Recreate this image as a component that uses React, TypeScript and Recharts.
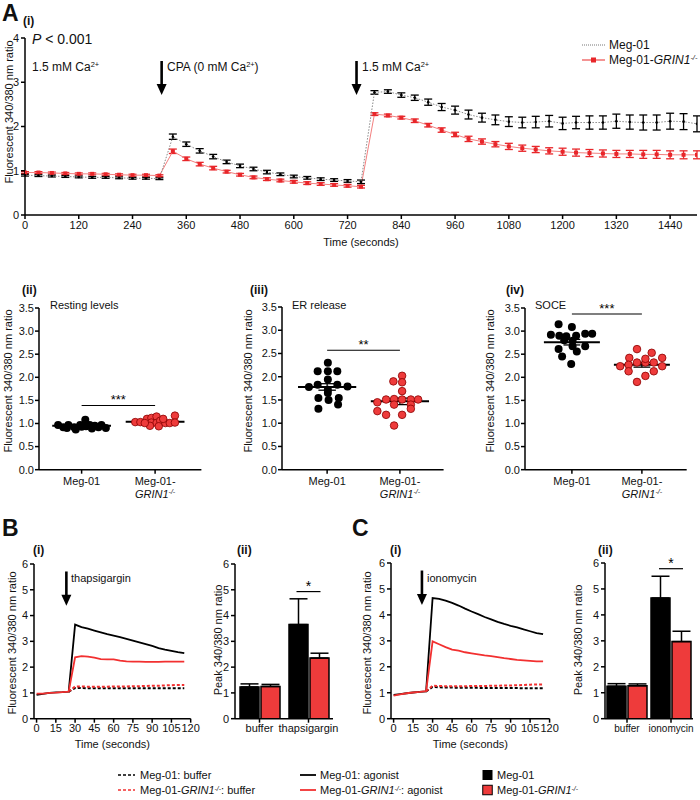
import React from 'react'
import {
  LineChart, Line, XAxis, YAxis, ErrorBar, ScatterChart, Scatter,
  ReferenceLine, BarChart, Bar,
} from 'recharts'

const FONT = '"Liberation Sans", Arial, Helvetica, sans-serif'
const RED = '#ee3b3b'
const RED_LINE = '#f23030'

// ---- A(i) time course (every 30 s) ----
const timeA = [
  0, 30, 60, 90, 120, 150, 180, 210, 240, 270, 300,
  330, 360, 390, 420, 450, 480, 510, 540, 570, 600, 630, 660, 690, 720, 750,
  780, 810, 840, 870, 900, 930, 960, 990, 1020, 1050, 1080, 1110, 1140, 1170, 1200,
  1230, 1260, 1290, 1320, 1350, 1380, 1410, 1440, 1470, 1500,
]
const megA = [
  0.90, 0.89, 0.88, 0.87, 0.86, 0.85, 0.85, 0.84, 0.83, 0.83, 0.82,
  1.77, 1.60, 1.45, 1.32, 1.20, 1.11, 1.04, 0.97, 0.92, 0.87, 0.84, 0.81, 0.79, 0.77, 0.75,
  2.77, 2.79, 2.71, 2.65, 2.55, 2.44, 2.37, 2.27, 2.20, 2.15, 2.11, 2.09, 2.10, 2.12, 2.07,
  2.09, 2.09, 2.09, 2.12, 2.10, 2.09, 2.09, 2.12, 2.11, 2.06,
]
const megAErr = [
  0.02, 0.02, 0.02, 0.02, 0.02, 0.02, 0.02, 0.02, 0.02, 0.02, 0.02,
  0.06, 0.05, 0.05, 0.05, 0.04, 0.04, 0.04, 0.04, 0.03, 0.03, 0.03, 0.03, 0.03, 0.03, 0.04,
  0.04, 0.04, 0.05, 0.06, 0.07, 0.08, 0.09, 0.10, 0.10, 0.11, 0.11, 0.12, 0.13, 0.13, 0.14,
  0.14, 0.15, 0.15, 0.16, 0.16, 0.17, 0.17, 0.18, 0.18, 0.18,
]
const grinA = [
  0.96, 0.96, 0.95, 0.94, 0.93, 0.93, 0.92, 0.91, 0.90, 0.90, 0.89,
  1.44, 1.27, 1.15, 1.06, 0.98, 0.91, 0.85, 0.81, 0.78, 0.75, 0.72, 0.70, 0.68, 0.66, 0.64,
  2.28, 2.25, 2.20, 2.13, 2.03, 1.92, 1.82, 1.72, 1.66, 1.60, 1.55, 1.51, 1.48, 1.45, 1.43,
  1.41, 1.40, 1.39, 1.38, 1.38, 1.37, 1.37, 1.36, 1.36, 1.36,
]
const grinAErr = [
  0.02, 0.02, 0.02, 0.02, 0.02, 0.02, 0.02, 0.02, 0.02, 0.02, 0.02,
  0.05, 0.04, 0.04, 0.04, 0.03, 0.03, 0.03, 0.03, 0.03, 0.03, 0.03, 0.03, 0.03, 0.03, 0.03,
  0.03, 0.03, 0.03, 0.04, 0.04, 0.05, 0.05, 0.06, 0.06, 0.06, 0.07, 0.07, 0.07, 0.07, 0.08,
  0.08, 0.08, 0.08, 0.08, 0.08, 0.09, 0.09, 0.09, 0.09, 0.09,
]
const ticksA = [0, 120, 240, 360, 480, 600, 720, 840, 960, 1080, 1200, 1320, 1440]

// ---- A(ii)-(iv) single-cell dots (x jitter in category units) ----
const groupNames = ['Meg-01', 'Meg-01-GRIN1']
const restMeg = [0.97, 0.92, 0.97, 0.92, 0.87, 0.97, 1.08, 0.94, 0.97, 0.95, 0.92, 0.97, 0.90, 0.90, 0.93, 0.89]
const restMegJ = [-0.32, -0.25, -0.18, -0.10, -0.08, -0.02, 0.05, 0.06, 0.11, 0.18, 0.23, 0.27, 0.33, -0.20, 0.0, 0.14]
const restGrin = [1.03, 1.03, 1.10, 1.12, 1.15, 1.02, 1.01, 1.06, 0.95, 0.94, 1.01, 1.01, 1.17, 1.02, 1.01, 1.10]
const restGrinJ = [-0.27, -0.20, -0.11, -0.05, 0.02, -0.05, 0.02, 0.07, -0.07, 0.05, 0.14, 0.20, 0.27, 0.27, -0.14, 0.11]
const erMeg = [2.30, 2.12, 2.12, 2.12, 1.94, 1.83, 1.83, 1.78, 1.79, 1.72, 1.54, 1.50, 1.54, 1.31, 1.40, 1.65]
const erMegJ = [0.01, -0.13, 0.01, 0.14, 0.01, -0.13, 0.14, -0.25, 0.28, 0.01, -0.12, 0.02, 0.16, -0.12, 0.15, 0.01]
const erGrin = [2.02, 1.90, 1.88, 1.69, 1.45, 1.51, 1.52, 1.51, 1.51, 1.51, 1.40, 1.40, 1.26, 1.18, 1.18, 1.31, 0.95]
const erGrinJ = [0.03, -0.09, 0.03, 0.03, -0.31, -0.19, -0.08, 0.03, 0.15, 0.25, -0.08, 0.15, -0.31, -0.19, 0.03, 0.15, -0.08]
const soceMeg = [3.15, 3.09, 2.92, 2.90, 2.89, 2.90, 2.94, 2.94, 2.80, 2.79, 2.61, 2.56, 2.67, 2.67, 2.45, 2.29]
const soceMegJ = [-0.19, 0.0, -0.30, -0.18, -0.08, 0.06, 0.19, 0.29, -0.11, 0.01, -0.19, 0.07, 0.19, 0.01, -0.14, -0.01]
const soceGrin = [2.61, 2.53, 2.42, 2.42, 2.24, 2.27, 2.32, 2.32, 2.32, 2.24, 2.13, 2.13, 2.03, 1.90, 2.40]
const soceGrinJ = [-0.07, 0.14, 0.29, -0.18, -0.31, -0.19, -0.07, 0.05, 0.17, 0.29, -0.19, 0.17, 0.05, -0.07, 0.05]
const restMean = [0.95, 1.04]
const restSem = [0.02, 0.02]
const erMean = [1.78, 1.47]
const erSem = [0.07, 0.07]
const soceMean = [2.76, 2.27]
const soceSem = [0.06, 0.05]
const ticksDot = [0, 0.5, 1, 1.5, 2, 2.5, 3, 3.5]

// ---- B(i)/C(i) traces ----
const traceTime = [0, 5, 10, 15, 20, 25, 30, 35, 40, 45, 50, 55, 60, 65, 70, 75, 80, 85, 90, 95, 100, 105, 110, 115]
const bufTime = [25, 30, 35, 40, 45, 50, 55, 60, 65, 70, 75, 80, 85, 90, 95, 100, 105, 110, 115]
const bMegAgo = [0.92, 0.96, 1.0, 1.02, 1.03, 1.05, 3.65, 3.55, 3.49, 3.42, 3.35, 3.28, 3.22, 3.16, 3.10, 3.03, 2.96, 2.89, 2.82, 2.74, 2.68, 2.63, 2.58, 2.54]
const bGrinAgo = [0.97, 0.97, 1.0, 1.01, 1.03, 1.05, 2.38, 2.43, 2.41, 2.37, 2.31, 2.30, 2.30, 2.25, 2.22, 2.21, 2.21, 2.20, 2.20, 2.20, 2.21, 2.21, 2.21, 2.21]
const bMegBuf = [1.05, 1.19, 1.19, 1.18, 1.18, 1.18, 1.18, 1.18, 1.18, 1.18, 1.18, 1.18, 1.18, 1.18, 1.18, 1.18, 1.18, 1.18, 1.18]
const bGrinBuf = [1.05, 1.25, 1.25, 1.24, 1.24, 1.24, 1.24, 1.25, 1.25, 1.25, 1.26, 1.26, 1.27, 1.28, 1.28, 1.29, 1.30, 1.31, 1.31]
const cMegAgo = [0.92, 0.95, 0.98, 1.01, 1.03, 1.05, 4.65, 4.62, 4.55, 4.46, 4.36, 4.24, 4.13, 4.03, 3.92, 3.83, 3.73, 3.65, 3.58, 3.52, 3.44, 3.37, 3.30, 3.26]
const cGrinAgo = [0.89, 0.94, 0.98, 1.01, 1.03, 1.06, 2.98, 2.87, 2.76, 2.66, 2.62, 2.56, 2.52, 2.48, 2.44, 2.41, 2.37, 2.33, 2.30, 2.27, 2.25, 2.23, 2.21, 2.21]
const cMegBuf = [1.05, 1.22, 1.21, 1.20, 1.20, 1.19, 1.19, 1.19, 1.19, 1.18, 1.18, 1.18, 1.18, 1.18, 1.18, 1.17, 1.17, 1.17, 1.17]
const cGrinBuf = [1.06, 1.27, 1.26, 1.25, 1.25, 1.25, 1.25, 1.26, 1.26, 1.26, 1.27, 1.27, 1.28, 1.28, 1.29, 1.30, 1.31, 1.32, 1.32]
const ticksTrace = [0, 15, 30, 45, 60, 75, 90, 105, 120]
const ticksPeak = [0, 1, 2, 3, 4, 5, 6]

// ---- B(ii)/C(ii) peaks ----
const bGroups = ['buffer', 'thapsigargin']
const bPeakMeg = [1.23, 3.65]
const bPeakMegErr = [0.12, 1.0]
const bPeakGrin = [1.25, 2.35]
const bPeakGrinErr = [0.08, 0.19]
const cGroups = ['buffer', 'ionomycin']
const cPeakMeg = [1.25, 4.65]
const cPeakMegErr = [0.1, 0.84]
const cPeakGrin = [1.27, 2.97]
const cPeakGrinErr = [0.07, 0.4]

const axisLine = { stroke: '#000', strokeWidth: 1.5 }
const tickLine = { stroke: '#000', strokeWidth: 1.5 }
const tickText = { fontSize: 11, fill: '#111' }

// chart box placed so that its plot area lands on (x0, y0)-(x1, y1)
function frame(x0: number, y0: number, x1: number, y1: number, yw: number, xh: number) {
  const mt = 8
  const mr = 14
  const mb = 4
  return {
    left: x0 - yw,
    top: y0 - mt,
    width: yw + (x1 - x0) + mr,
    height: mt + (y1 - y0) + xh + mb,
    margin: { top: mt, right: mr, left: 0, bottom: mb },
  }
}

const Sup = ({ children }: any) => (
  <span style={{ fontSize: '0.62em', position: 'relative', top: '-0.5em' }}>{children}</span>
)
const Grin = () => <i>GRIN1<Sup>-/-</Sup></i>

function T({ x, y, size = 11, bold = false, children }: any) {
  return (
    <div style={{
      position: 'absolute', left: x, top: y, fontSize: size, fontWeight: bold ? 700 : 400,
      lineHeight: 1, whiteSpace: 'nowrap', transform: 'translateY(-50%)',
    }}>{children}</div>
  )
}

function VT({ x, y, size = 11, children }: any) {
  return (
    <div style={{
      position: 'absolute', left: x, top: y, fontSize: size, lineHeight: 1, whiteSpace: 'nowrap',
      transform: 'translate(-50%, -50%) rotate(-90deg)',
    }}>{children}</div>
  )
}

const ArrowShape = (p: any) => (
  <g>
    <line x1={p.x1} y1={p.y1} x2={p.x2} y2={p.y2 - 9} stroke="#000" strokeWidth={2.6} />
    <polygon points={`${p.x2 - 5},${p.y2 - 11} ${p.x2 + 5},${p.y2 - 11} ${p.x2},${p.y2}`} fill="#000" />
  </g>
)

const RedSquare = (p: any) => (
  <rect key={`sq-${p.index}`} x={p.cx - 2} y={p.cy - 2} width={4} height={4} fill="#e8262a" />
)

function GroupTick({ x, y, payload }: any) {
  const i = Math.round(payload.value) - 1
  if (i === 0) {
    return <text x={x} y={y + 9} textAnchor="middle" fontSize={11} fill="#111">{groupNames[0]}</text>
  }
  return (
    <text x={x} y={y + 9} textAnchor="middle" fontSize={11} fill="#111">
      <tspan x={x}>{groupNames[0]}-</tspan>
      <tspan x={x} dy={13} fontStyle="italic">GRIN1<tspan fontSize={7} dy={-4}>-/-</tspan></tspan>
    </text>
  )
}

const BlackDot = (p: any) => <circle cx={p.cx} cy={p.cy} r={4} fill="#000" />
const RedDot = (p: any) => <circle cx={p.cx} cy={p.cy} r={3.8} fill={RED} stroke="#8a0000" strokeWidth={0.8} />

function DotPanel({ box, meg, megJ, grin, grinJ, mean, sem, sigY, stars, domain }: any) {
  const f = frame(box[0], box[1], box[2], box[3], 30, 34)
  const dMeg = meg.map((y: number, i: number) => ({ x: 1 + megJ[i], y }))
  const dGrin = grin.map((y: number, i: number) => ({ x: 2 + grinJ[i], y }))
  const SigShape = (p: any) => (
    <g>
      <line x1={p.x1} y1={p.y1} x2={p.x2} y2={p.y2} stroke="#000" strokeWidth={1.2} />
      <text x={(p.x1 + p.x2) / 2} y={p.y1 - 1} textAnchor="middle" fontSize={13} fill="#000">{stars}</text>
    </g>
  )
  return (
    <div style={{ position: 'absolute', left: f.left, top: f.top }}>
      <ScatterChart width={f.width} height={f.height} margin={f.margin}>
        <XAxis type="number" dataKey="x" domain={domain} ticks={[1, 2]} allowDataOverflow
          tick={<GroupTick />} tickSize={4} axisLine={axisLine} tickLine={tickLine} height={34} interval={0} />
        <YAxis type="number" dataKey="y" domain={[0, 3.5]} ticks={ticksDot} allowDataOverflow
          tickFormatter={(v: number) => v.toFixed(1)} tick={tickText} tickSize={4} tickMargin={1}
          axisLine={axisLine} tickLine={tickLine} width={30} interval={0} />
        <Scatter data={dMeg} shape={BlackDot} isAnimationActive={false} />
        <Scatter data={dGrin} shape={RedDot} isAnimationActive={false} />
        {mean.map((m: number, g: number) => (
          <ReferenceLine key={`m${g}`} ifOverflow="visible" stroke="#000" strokeWidth={2}
            segment={[{ x: g + 1 - 0.4, y: m }, { x: g + 1 + 0.4, y: m }]} />
        ))}
        {mean.map((m: number, g: number) => (
          <ReferenceLine key={`s${g}`} ifOverflow="visible" stroke="#000" strokeWidth={1.3}
            segment={[{ x: g + 1, y: m - sem[g] }, { x: g + 1, y: m + sem[g] }]} />
        ))}
        {mean.map((m: number, g: number) => (
          <ReferenceLine key={`u${g}`} ifOverflow="visible" stroke="#000" strokeWidth={1.3}
            segment={[{ x: g + 1 - 0.12, y: m + sem[g] }, { x: g + 1 + 0.12, y: m + sem[g] }]} />
        ))}
        {mean.map((m: number, g: number) => (
          <ReferenceLine key={`l${g}`} ifOverflow="visible" stroke="#000" strokeWidth={1.3}
            segment={[{ x: g + 1 - 0.12, y: m - sem[g] }, { x: g + 1 + 0.12, y: m - sem[g] }]} />
        ))}
        <ReferenceLine ifOverflow="visible" shape={SigShape}
          segment={[{ x: 1, y: sigY }, { x: 2, y: sigY }]} />
      </ScatterChart>
    </div>
  )
}

function pts(times: number[], vals: number[]) {
  return times.map((t, i) => ({ t, v: vals[i] }))
}

function TracePanel({ box, megAgo, grinAgo, megBuf, grinBuf, arrowT }: any) {
  const f = frame(box[0], box[1], box[2], box[3], 20, 30)
  return (
    <div style={{ position: 'absolute', left: f.left, top: f.top }}>
      <LineChart width={f.width} height={f.height} margin={f.margin}>
        <XAxis type="number" dataKey="t" domain={[-2, 120]} ticks={ticksTrace} allowDataOverflow
          tick={tickText} tickSize={4} axisLine={axisLine} tickLine={tickLine} height={30} interval={0}
          label={{ value: 'Time (seconds)', position: 'insideBottom', offset: 1, fontSize: 11, fill: '#111' }} />
        <YAxis type="number" domain={[0, 6]} ticks={ticksPeak} allowDataOverflow tick={tickText}
          tickSize={4} axisLine={axisLine} tickLine={tickLine} width={20} interval={0} />
        <Line data={pts(bufTime, megBuf)} dataKey="v" stroke="#000" strokeWidth={2} strokeDasharray="3 2"
          dot={false} isAnimationActive={false} />
        <Line data={pts(bufTime, grinBuf)} dataKey="v" stroke={RED_LINE} strokeWidth={2} strokeDasharray="3 2"
          dot={false} isAnimationActive={false} />
        <Line data={pts(traceTime, megAgo)} dataKey="v" stroke="#000" strokeWidth={1.8}
          dot={false} isAnimationActive={false} />
        <Line data={pts(traceTime, grinAgo)} dataKey="v" stroke={RED_LINE} strokeWidth={1.8}
          dot={false} isAnimationActive={false} />
        <ReferenceLine ifOverflow="visible" shape={ArrowShape}
          segment={[{ x: arrowT, y: 5.71 }, { x: arrowT, y: 4.38 }]} />
      </LineChart>
    </div>
  )
}

function PeakPanel({ box, groups, meg, megErr, grin, grinErr, sigY, tickSize = 11 }: any) {
  const f = frame(box[0], box[1], box[2], box[3], 20, 30)
  const data = groups.map((g: string, i: number) => ({
    name: g, meg: meg[i], megErr: [0, megErr[i]], grin: grin[i], grinErr: [0, grinErr[i]],
  }))
  const SigShape = (p: any) => (
    <g>
      <line x1={p.x1 - 12} y1={p.y1} x2={p.x1 + 12} y2={p.y1} stroke="#000" strokeWidth={1.2} />
      <text x={p.x1} y={p.y1 - 1} textAnchor="middle" fontSize={14} fill="#000">*</text>
    </g>
  )
  return (
    <div style={{ position: 'absolute', left: f.left, top: f.top }}>
      <BarChart width={f.width} height={f.height} margin={f.margin} data={data}
        barSize={19} barGap={2} barCategoryGap={4}>
        <XAxis dataKey="name" tick={{ fontSize: tickSize, fill: '#111' }} tickSize={4}
          axisLine={axisLine} tickLine={tickLine} height={30} interval={0} />
        <YAxis type="number" domain={[0, 6]} ticks={ticksPeak} allowDataOverflow tick={tickText}
          tickSize={4} axisLine={axisLine} tickLine={tickLine} width={20} interval={0} />
        <Bar dataKey="meg" fill="#000" stroke="#000" strokeWidth={1.5} isAnimationActive={false}>
          <ErrorBar dataKey="megErr" width={9} stroke="#000" strokeWidth={1.5} direction="y" />
        </Bar>
        <Bar dataKey="grin" fill={RED} stroke="#000" strokeWidth={1.5} isAnimationActive={false}>
          <ErrorBar dataKey="grinErr" width={9} stroke="#000" strokeWidth={1.5} direction="y" />
        </Bar>
        <ReferenceLine ifOverflow="visible" shape={SigShape}
          segment={[{ x: groups[1], y: sigY }, { x: groups[1], y: sigY }]} />
      </BarChart>
    </div>
  )
}

function Glyph({ x, y, kind }: any) {
  return (
    <svg style={{ position: 'absolute', left: x, top: y - 6 }} width={24} height={12}>
      {kind === 'dashK' && <line x1={0} y1={6} x2={17} y2={6} stroke="#000" strokeWidth={1.5} strokeDasharray="3 2" />}
      {kind === 'dashR' && <line x1={0} y1={6} x2={17} y2={6} stroke={RED_LINE} strokeWidth={1.5} strokeDasharray="3 2" />}
      {kind === 'lineK' && <line x1={0} y1={6} x2={16} y2={6} stroke="#000" strokeWidth={1.8} />}
      {kind === 'lineR' && <line x1={0} y1={6} x2={16} y2={6} stroke={RED_LINE} strokeWidth={1.8} />}
      {kind === 'boxK' && <rect x={0.5} y={1} width={10} height={10} fill="#000" />}
      {kind === 'boxR' && <rect x={0.75} y={1.25} width={9.5} height={9.5} fill={RED} stroke="#000" strokeWidth={1} />}
      {kind === 'dotted' && <line x1={0} y1={6} x2={23} y2={6} stroke="#777" strokeWidth={1} strokeDasharray="1 1" />}
      {kind === 'square' && (
        <g>
          <line x1={0} y1={6} x2={23} y2={6} stroke="#f07070" strokeWidth={1.5} />
          <rect x={9} y={3.5} width={5} height={5} fill="#e8262a" />
        </g>
      )}
    </svg>
  )
}

export default function App() {
  const dataA = timeA.map((t, i) => ({
    t, meg: megA[i], megErr: megAErr[i], grin: grinA[i], grinErr: grinAErr[i],
  }))
  const fA = frame(25, 38, 697, 215, 25, 32)

  return (
    <div style={{
      position: 'absolute', left: 0, top: 0, width: 700, height: 800, background: '#fff',
      overflow: 'hidden', fontFamily: FONT, color: '#111',
    }}>
      {/* ---------- A(i) ---------- */}
      <T x={2} y={13} size={23} bold>A</T>
      <T x={23} y={21} size={12} bold>(i)</T>
      <VT x={9} y={112}>Fluorescent 340/380 nm ratio</VT>
      <div style={{ position: 'absolute', left: fA.left, top: fA.top }}>
        <LineChart width={fA.width} height={fA.height} margin={fA.margin} data={dataA}>
          <XAxis type="number" dataKey="t" domain={[0, 1500]} ticks={ticksA} allowDataOverflow
            tick={tickText} tickSize={4} axisLine={axisLine} tickLine={tickLine} height={32} interval={0}
            label={{ value: 'Time (seconds)', position: 'insideBottom', offset: 1, fontSize: 11, fill: '#111' }} />
          <YAxis type="number" domain={[0, 4]} ticks={[0, 1, 2, 3, 4]} allowDataOverflow tick={tickText}
            tickSize={4} axisLine={axisLine} tickLine={tickLine} width={25} interval={0} />
          <Line dataKey="grin" stroke="#f38080" strokeWidth={1} dot={RedSquare} isAnimationActive={false}>
            <ErrorBar dataKey="grinErr" width={4} stroke="#e8262a" strokeWidth={1.3} direction="y" />
          </Line>
          <Line dataKey="meg" stroke="#8a8a8a" strokeWidth={1} strokeDasharray="1.5 1.5"
            dot={{ r: 1.3, fill: '#000', stroke: 'none' }} isAnimationActive={false}>
            <ErrorBar dataKey="megErr" width={4} stroke="#000" strokeWidth={1.3} direction="y" />
          </Line>
          <ReferenceLine ifOverflow="visible" shape={ArrowShape}
            segment={[{ x: 305, y: 3.48 }, { x: 305, y: 2.71 }]} />
          <ReferenceLine ifOverflow="visible" shape={ArrowShape}
            segment={[{ x: 740, y: 3.48 }, { x: 740, y: 2.71 }]} />
        </LineChart>
      </div>
      <T x={32} y={39} size={14}><i>P</i> &lt; 0.001</T>
      <T x={32} y={67} size={12}>1.5 mM Ca<Sup>2+</Sup></T>
      <T x={167} y={67} size={12}>CPA (0 mM Ca<Sup>2+</Sup>)</T>
      <T x={362} y={67} size={12}>1.5 mM Ca<Sup>2+</Sup></T>
      <Glyph x={582} y={45} kind="dotted" />
      <T x={609} y={45} size={12}>Meg-01</T>
      <Glyph x={582} y={60} kind="square" />
      <T x={609} y={60} size={12}>Meg-01-<Grin /></T>

      {/* ---------- A(ii)-(iv) ---------- */}
      <T x={22} y={290} size={12} bold>(ii)</T>
      <T x={50} y={305}>Resting levels</T>
      <VT x={8} y={381}>Fluorescent 340/380 nm ratio</VT>
      <DotPanel box={[39.3, 308.3, 201.7, 470]} domain={[0.42, 2.63]} meg={restMeg} megJ={restMegJ}
        grin={restGrin} grinJ={restGrinJ} mean={restMean} sem={restSem} sigY={1.39} stars="***" />

      <T x={250} y={290} size={12} bold>(iii)</T>
      <T x={292} y={305}>ER release</T>
      <VT x={248} y={381}>Fluorescent 340/380 nm ratio</VT>
      <DotPanel box={[281.7, 307.3, 443.3, 470]} domain={[0.38, 2.6]} meg={erMeg} megJ={erMegJ}
        grin={erGrin} grinJ={erGrinJ} mean={erMean} sem={erSem} sigY={2.57} stars="**" />

      <T x={506} y={290} size={12} bold>(iv)</T>
      <T x={535} y={305}>SOCE</T>
      <VT x={490} y={381}>Fluorescent 340/380 nm ratio</VT>
      <DotPanel box={[525, 308.3, 686.7, 470]} domain={[0.33, 2.64]} meg={soceMeg} megJ={soceMegJ}
        grin={soceGrin} grinJ={soceGrinJ} mean={soceMean} sem={soceSem} sigY={3.37} stars="***" />

      {/* ---------- B ---------- */}
      <T x={2} y={528} size={23} bold>B</T>
      <T x={33} y={550} size={12} bold>(i)</T>
      <T x={237} y={550} size={12} bold>(ii)</T>
      <T x={71} y={578}>thapsigargin</T>
      <VT x={12} y={643}>Fluorescent 340/380 nm ratio</VT>
      <VT x={218} y={640}>Peak 340/380 nm ratio</VT>
      <TracePanel box={[34.3, 564.3, 191, 719]} megAgo={bMegAgo} grinAgo={bGrinAgo}
        megBuf={bMegBuf} grinBuf={bGrinBuf} arrowT={23.2} />
      <PeakPanel box={[235, 564.3, 333, 719]} groups={bGroups} meg={bPeakMeg} megErr={bPeakMegErr}
        grin={bPeakGrin} grinErr={bPeakGrinErr} sigY={4.93} />

      {/* ---------- C ---------- */}
      <T x={352} y={528} size={23} bold>C</T>
      <T x={390} y={550} size={12} bold>(i)</T>
      <T x={598} y={550} size={12} bold>(ii)</T>
      <T x={427} y={578}>ionomycin</T>
      <VT x={367} y={643}>Fluorescent 340/380 nm ratio</VT>
      <VT x={578} y={640}>Peak 340/380 nm ratio</VT>
      <TracePanel box={[390.7, 563.3, 549.3, 719]} megAgo={cMegAgo} grinAgo={cGrinAgo}
        megBuf={cMegBuf} grinBuf={cGrinBuf} arrowT={21.8} />
      <PeakPanel box={[605, 563.3, 693, 719]} groups={cGroups} meg={cPeakMeg} megErr={cPeakMegErr}
        grin={cPeakGrin} grinErr={cPeakGrinErr} sigY={5.78} tickSize={10} />

      {/* ---------- shared legend ---------- */}
      <Glyph x={118} y={775} kind="dashK" />
      <T x={140} y={775}>Meg-01: buffer</T>
      <Glyph x={118} y={790} kind="dashR" />
      <T x={140} y={790}>Meg-01-<Grin />: buffer</T>
      <Glyph x={300} y={775} kind="lineK" />
      <T x={320} y={775}>Meg-01: agonist</T>
      <Glyph x={300} y={790} kind="lineR" />
      <T x={320} y={790}>Meg-01-<Grin />: agonist</T>
      <Glyph x={482} y={775} kind="boxK" />
      <T x={497} y={775}>Meg-01</T>
      <Glyph x={482} y={790} kind="boxR" />
      <T x={497} y={790}>Meg-01-<Grin /></T>
    </div>
  )
}
